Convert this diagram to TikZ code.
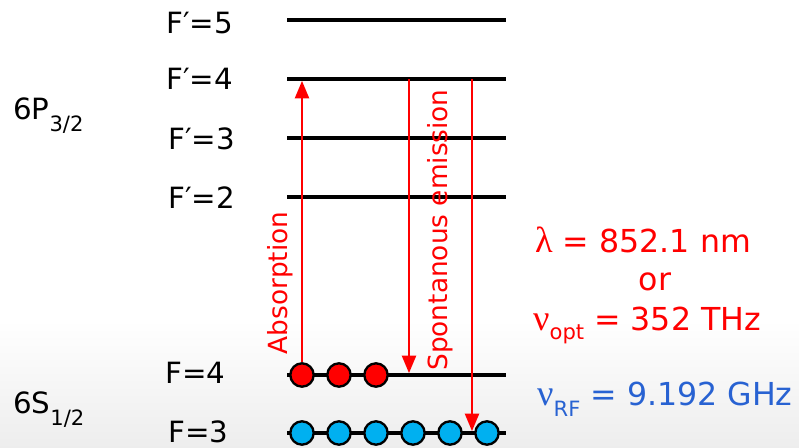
\documentclass[tikz,border=0pt]{standalone}
\usepackage{fontspec}
\setmainfont{DejaVu Sans}
\newfontfamily\greekfont{Liberation Serif}
\usetikzlibrary{arrows.meta, positioning}
\definecolor{cred}{HTML}{FF0000}
\definecolor{catom}{HTML}{00B0F0}
\definecolor{crf}{HTML}{2862D2}
\newcommand{\lowsub}[2][10pt]{\raisebox{-#1}{\fontsize{18}{20}\selectfont #2}}
\newcommand{\grk}[1]{{\greekfont\fontsize{31}{31}\selectfont #1}}
\tikzset{
  level/.style={line width=3.3pt, black},
  lbl/.style={font=\fontsize{25}{30}\selectfont, inner sep=0pt, anchor=base west},
  atomR/.style={circle, draw=black, line width=2pt, fill=cred,
                minimum size=0.7cm, inner sep=0pt},
  atomB/.style={atomR, fill=catom},
  photon/.style={-{Triangle[width=12pt,length=15pt]}, line width=2pt, cred},
}

\begin{document}
\begin{tikzpicture}[x=0.03cm, y=-0.03cm,
  side/.style={font=\fontsize{22.5}{26}\selectfont, text=cred, rotate=90,
               anchor=base, inner sep=0pt},
  note/.style={font=\fontsize{27}{32}\selectfont, inner sep=0pt, anchor=base west}]
  \useasboundingbox (0,0) rectangle (799,448);
  \shade[top color=white, bottom color=black!7] (0,320) rectangle (799,448);
  % hyperfine levels
  \coordinate (e5L) at (287,20);  \coordinate (e5R) at (506,20);
  \coordinate (e4L) at (287,79);  \coordinate (e4R) at (506,79);
  \coordinate (e3L) at (287,138); \coordinate (e3R) at (506,138);
  \coordinate (e2L) at (287,197); \coordinate (e2R) at (506,197);
  \coordinate (g4L) at (287,375); \coordinate (g4R) at (506,375);
  \coordinate (g3L) at (287,433); \coordinate (g3R) at (506,433);
  \draw[level] (e5L) -- (e5R);
  \draw[level] (e4L) -- (e4R);
  \draw[level] (e3L) -- (e3R);
  \draw[level] (e2L) -- (e2R);
  \draw[level] (g4L) -- (g4R);
  \draw[level] (g3L) -- (g3R);
  \node[lbl] (tF5p) at (166,33) {F′=5};
  \node[lbl] (tF4p) at (166,89) {F′=4};
  \node[lbl] (tF3p) at (168,149) {F′=3};
  \node[lbl] (tF2p) at (168,208) {F′=2};
  \node[lbl] (tF4) at (165,383) {F=4};
  \node[lbl] (tF3) at (168,442) {F=3};
  \node[lbl] (tP) at (13,119) {6P\lowsub[11pt]{3/2}};
  \node[lbl] (tS) at (13,413) {6S\lowsub[11pt]{1/2}};
  % atoms
  \node[atomR] (r1) at (302,375) {};
  \node[atomR] (r2) at (339,375) {};
  \node[atomR] (r3) at (376,375) {};
  \node[atomB] (b1) at (302,433) {};
  \node[atomB] (b2) at (339,433) {};
  \node[atomB] (b3) at (376,433) {};
  \node[atomB] (b4) at (413,433) {};
  \node[atomB] (b5) at (450,433) {};
  \node[atomB] (b6) at (487,433) {};
  % transitions
  \coordinate (em1) at (409,79);
  \coordinate (em2) at (472,79);
  \draw[photon, shorten >=1.6pt] (r1.north) -- (r1 |- e4L);
  \draw[photon, shorten >=1.6pt] (em1) -- (em1 |- g4L);
  \draw[photon, shorten >=1.6pt] (em2) -- (em2 |- g3L);
  \node[side] (abs) at (287,283) {Absorption};
  \node[side] (spon) at (447,230) {Spontanous emission};
  \node[note, text=cred] (lam) at (535,252) {\grk{λ} = 852.1 nm};
  \node[note, text=cred, anchor=base] (ortxt) at (655,290) {or};
  \node[note, text=cred] (nuopt) at (533,330) {\grk{ν}\lowsub[8.5pt]{opt} = 352 THz};
  \node[note, text=crf] (nurf) at (537,405) {\grk{ν}\lowsub[10pt]{RF} = 9.192 GHz};
\end{tikzpicture}
\end{document}
